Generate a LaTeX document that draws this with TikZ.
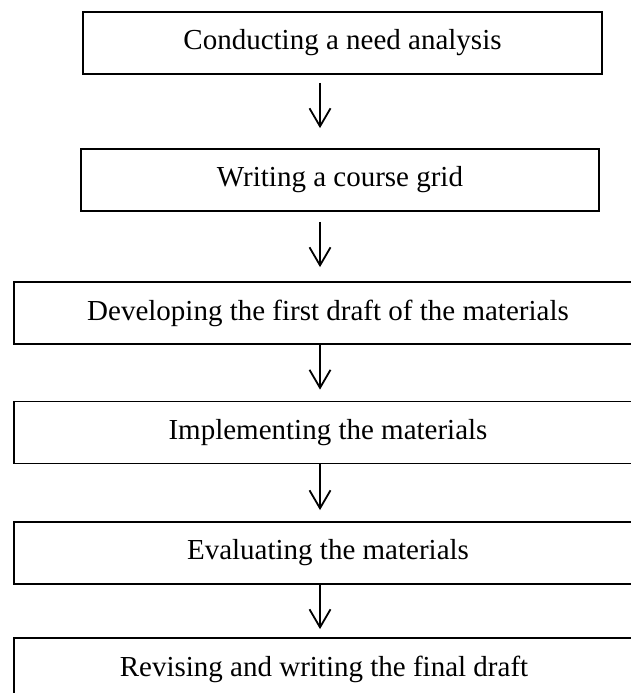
\documentclass[tikz,border=0pt]{standalone}
\usepackage{fontspec}
\setmainfont{Liberation Serif}
\usetikzlibrary{arrows.meta,positioning,calc}

\begin{document}
\begin{tikzpicture}[x=1pt,y=1pt,
    stage/.style={draw, line width=1.8pt, minimum height=62pt, inner sep=0pt,
      font=\fontsize{29}{33}\selectfont},
    flow/.style={line width=1.8pt, -{Straight Barb[length=18pt,width=21pt]}}]
    \useasboundingbox (0,0) rectangle (630,-693);
    % Stages
    \node[stage, minimum width=519pt] (need) at (342.5,-43) {Conducting a need analysis};
    \node[stage, minimum width=518pt] (grid) at (340,-180) {Writing a course grid};
    \node[stage, minimum width=628pt] (draft) at (328,-313) {Developing the first draft of the materials};
    \node[stage, minimum width=628pt] (impl) at (328,-432.5) {Implementing the materials};
    \node[stage, minimum width=628pt] (eval) at (328,-553) {Evaluating the materials};
    \node[stage, minimum width=620pt] (final) at (324,-669) {Revising and writing the final draft};
    % Arrows
    \coordinate (axis) at (320,0);
    \draw[flow, shorten <=8pt, shorten >=20pt] (need.south -| axis) -- (grid.north -| axis);
    \draw[flow, shorten <=10pt, shorten >=14pt] (grid.south -| axis) -- (draft.north -| axis);
    \draw[flow, shorten >=11pt] (draft.south -| axis) -- (impl.north -| axis);
    \draw[flow, shorten >=11pt] (impl.south -| axis) -- (eval.north -| axis);
    \draw[flow, shorten >=8pt] (eval.south -| axis) -- (final.north -| axis);
\end{tikzpicture}
\end{document}
